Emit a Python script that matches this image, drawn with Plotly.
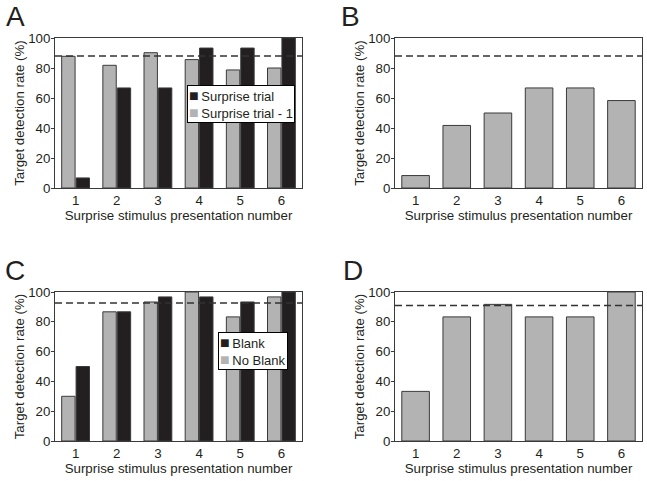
import plotly.graph_objects as go

# ---------------- data ----------------
presentations = ["1", "2", "3", "4", "5", "6"]

# Panel A
a_series_names = ["Surprise trial", "Surprise trial - 1"]
a_surprise_trial = [6.7, 66.7, 66.7, 93.3, 93.3, 100.0]
a_surprise_trial_minus1 = [87.8, 81.8, 90.2, 85.6, 78.7, 80.0]
a_baseline = 88.0

# Panel B
b_rate = [8.3, 41.7, 50.0, 66.7, 66.7, 58.3]
b_baseline = 88.0

# Panel C
c_series_names = ["Blank", "No Blank"]
c_blank = [50.0, 86.7, 96.7, 96.7, 93.3, 100.0]
c_no_blank = [30.0, 86.7, 93.3, 100.0, 83.3, 96.7]
c_baseline = 92.7

# Panel D
d_rate = [33.3, 83.3, 91.7, 83.3, 83.3, 100.0]
d_baseline = 91.0

y_ticks = [0, 20, 40, 60, 80, 100]
panel_letters = ["A", "B", "C", "D"]
y_title = "Target detection rate (%)"
x_title = "Surprise stimulus presentation number"

# ---------------- style ----------------
W, H = 647, 481
GRAY = "#b3b3b3"
BLACK = "#231f20"
EDGE = "#3a3a3a"
TXT = "#231f20"
FONT = "Liberation Sans, Arial, Helvetica, sans-serif"
FS = 13.3

def px_x(p):
    return p / W

def px_y(p):
    return 1 - p / H

left_dom = [px_x(55), px_x(302)]
right_dom = [px_x(395), px_x(642)]
top_dom = [px_y(188), px_y(38)]
bot_dom = [px_y(441), px_y(292)]

fig = go.Figure()

def bar(x, y, color, name, xa, ya, width=None):
    return go.Bar(
        x=x, y=y, name=name, width=width,
        marker=dict(color=color, line=dict(color=EDGE, width=1)),
        xaxis=xa, yaxis=ya, showlegend=False,
    )

# A
fig.add_trace(bar(presentations, a_surprise_trial_minus1, GRAY, a_series_names[1], "x", "y"))
fig.add_trace(bar(presentations, a_surprise_trial, BLACK, a_series_names[0], "x", "y"))
# B
fig.add_trace(bar(presentations, b_rate, GRAY, "B", "x2", "y2", 0.67))
# C
fig.add_trace(bar(presentations, c_no_blank, GRAY, c_series_names[1], "x3", "y3"))
fig.add_trace(bar(presentations, c_blank, BLACK, c_series_names[0], "x3", "y3"))
# D
fig.add_trace(bar(presentations, d_rate, GRAY, "D", "x4", "y4", 0.67))

axis_common = dict(
    showline=True, linecolor=EDGE, linewidth=1, mirror=True,
    showgrid=False, zeroline=False, automargin=False,
    tickfont=dict(family=FONT, size=FS, color=TXT),
    title_font=dict(family=FONT, size=FS, color=TXT),
)

def xaxis(dom, anchor):
    return dict(
        domain=dom, anchor=anchor, type="category",
        range=[-0.5, 5.5], ticks="",
        title=dict(text=x_title, standoff=2),
        **axis_common,
    )

def yaxis(dom, anchor):
    return dict(
        domain=dom, anchor=anchor, range=[0, 100],
        tickvals=y_ticks, ticks="outside", ticklen=3, tickcolor=EDGE,
        ticklabelstandoff=-2,
        title=dict(text=y_title, standoff=0),
        **axis_common,
    )

fig.update_layout(
    width=W, height=H,
    margin=dict(l=0, r=0, t=0, b=0, pad=0, autoexpand=False),
    paper_bgcolor="white", plot_bgcolor="white",
    font=dict(family=FONT, size=FS, color=TXT),
    xaxis=xaxis(left_dom, "y"), yaxis=yaxis(top_dom, "x"),
    xaxis2=xaxis(right_dom, "y2"), yaxis2=yaxis(top_dom, "x2"),
    xaxis3=xaxis(left_dom, "y3"), yaxis3=yaxis(bot_dom, "x3"),
    xaxis4=xaxis(right_dom, "y4"), yaxis4=yaxis(bot_dom, "x4"),
    barmode="group", bargap=0.30, bargroupgap=0.07,
    showlegend=False,
)

# dashed baseline lines
for ref_x, ref_y, val in [("x", "y", a_baseline), ("x2", "y2", b_baseline),
                          ("x3", "y3", c_baseline), ("x4", "y4", d_baseline)]:
    fig.add_shape(
        type="line", xref=f"{ref_x} domain", yref=ref_y,
        x0=0, x1=1, y0=val, y1=val,
        line=dict(color="#333333", width=1.5, dash="7px,4px"),
        layer="above",
    )

# legends (compact boxed keys)
def key_text(names, colors):
    rows = []
    for n, c in zip(names, colors):
        rows.append(f"<span style='color:{c};font-size:16px'>■</span>\u2009{n}")
    return "<br>".join(rows)

for (lx, ly, names) in [(187, 85, a_series_names), (218, 332, c_series_names)]:
    fig.add_annotation(
        text=key_text(names, [BLACK, GRAY]),
        xref="paper", yref="paper", x=px_x(lx), y=px_y(ly),
        xanchor="left", yanchor="top", align="left", showarrow=False,
        font=dict(family=FONT, size=13, color=TXT),
        bgcolor="white", bordercolor="#000000", borderwidth=1, borderpad=1,
    )

# panel letters
letter_pos = [(4, 17), (339, 17), (3, 270), (341, 270)]
for letter, (lx, ly) in zip(panel_letters, letter_pos):
    fig.add_annotation(
        text=letter, xref="paper", yref="paper",
        x=px_x(lx), y=px_y(ly), xanchor="left", yanchor="middle",
        showarrow=False, font=dict(family=FONT, size=28, color=TXT),
    )

fig.write_html(
    "out.html",
    config={"displayModeBar": False},
    post_script="document.body.style.margin='0';document.body.style.overflow='hidden';",
)
